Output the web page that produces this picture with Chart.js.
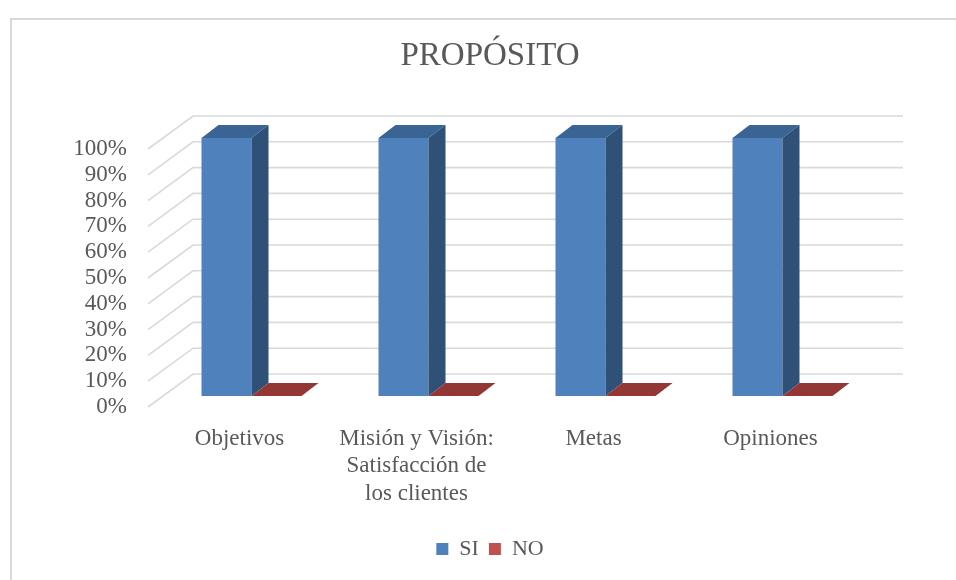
<!DOCTYPE html>
<html>
<head>
<meta charset="utf-8">
<script src="https://cdn.jsdelivr.net/npm/chart.js@4"></script>
<style>
  html, body { margin: 0; padding: 0; background: #fff; overflow: hidden; }
  #box {
    position: absolute; left: 10px; top: 18px;
    border-left: 2px solid #d9d9d9; border-top: 2px solid #d9d9d9;
  }
  #box canvas { display: block; }
</style>
</head>
<body>
<div id="box"><canvas id="chart" width="956" height="560"></canvas></div>
<script>
const categorias = ['Objetivos', ['Misión y Visión:', 'Satisfacción de', 'los clientes'], 'Metas', 'Opiniones'];
const valoresSi = [100, 100, 100, 100];
const valoresNo = [0, 0, 0, 0];
const ticksY = [0, 10, 20, 30, 40, 50, 60, 70, 80, 90, 100];

const FONT = '"Liberation Serif", "DejaVu Serif", serif';
const TEXT = '#595959';
const GRID = '#d9d9d9';

// profundidad de la barra y de la pared del fondo (pseudo 3D estilo Excel)
const BAR_DX = 17, BAR_DY = -13;
const WALL_DX = 30, WALL_DY = -22;
const FRONT_DX = -15, FRONT_DY = 11;

const caras = {
  0: { top: '#3a6494', side: '#2f5077' },
  1: { top: '#943634', side: '#7a2c2a' },
};

function poly(ctx, pts, color) {
  ctx.beginPath();
  ctx.moveTo(pts[0][0], pts[0][1]);
  for (let i = 1; i < pts.length; i++) ctx.lineTo(pts[i][0], pts[i][1]);
  ctx.closePath();
  ctx.fillStyle = color;
  ctx.fill();
}

const pseudo3d = {
  id: 'pseudo3d',
  beforeDatasetsDraw(chart) {
    const { ctx, chartArea: a, scales: { y } } = chart;
    ctx.save();
    ctx.strokeStyle = GRID;
    ctx.lineWidth = 1.6;
    ticksY.forEach(v => {
      const py = y.getPixelForValue(v);
      ctx.beginPath();
      ctx.moveTo(a.left + FRONT_DX, py + FRONT_DY);
      ctx.lineTo(a.left + WALL_DX, py + WALL_DY);
      ctx.lineTo(a.right + WALL_DX + 2, py + WALL_DY);
      ctx.stroke();
    });
    ctx.restore();
  },
  afterDatasetsDraw(chart) {
    const { ctx } = chart;
    ctx.save();
    chart.data.datasets.forEach((ds, i) => {
      const meta = chart.getDatasetMeta(i);
      meta.data.forEach(bar => {
        const { x, y, base, width } = bar.getProps(['x', 'y', 'base', 'width'], true);
        const l = x - width / 2, r = x + width / 2;
        poly(ctx, [[l, y], [l + BAR_DX, y + BAR_DY], [r + BAR_DX, y + BAR_DY], [r, y]], caras[i].top);
        if (base - y > 0.5) {
          poly(ctx, [[r, y], [r + BAR_DX, y + BAR_DY], [r + BAR_DX, base + BAR_DY], [r, base]], caras[i].side);
        }
      });
    });
    ctx.restore();
  },
};

new Chart(document.getElementById('chart'), {
  type: 'bar',
  data: {
    labels: categorias,
    datasets: [
      { label: 'SI', data: valoresSi, backgroundColor: '#4f81bd' },
      { label: 'NO', data: valoresNo, backgroundColor: '#c0504d' },
    ],
  },
  options: {
    responsive: false,
    animation: false,
    categoryPercentage: 100 / 177,
    barPercentage: 1,
    layout: { padding: { left: 0, right: 0, top: 0, bottom: 10 } },
    plugins: {
      title: {
        display: true,
        text: 'PROPÓSITO',
        color: TEXT,
        font: { family: FONT, size: 33, weight: 'normal' },
        padding: { top: 17, bottom: 61.4 },
      },
      legend: {
        position: 'bottom',
        labels: {
          color: TEXT,
          font: { family: FONT, size: 22 },
          boxWidth: 12,
          boxHeight: 12,
          padding: 10,
        },
      },
      tooltip: { enabled: false },
    },
    scales: {
      x: {
        grid: { display: false, drawTicks: false },
        border: { display: false },
        ticks: {
          color: TEXT,
          font: { family: FONT, size: 23, lineHeight: 1.2 },
          padding: 29,
          labelOffset: -12,
          maxRotation: 0,
          autoSkip: false,
        },
        afterFit(scale) { scale.height = 132; },
      },
      y: {
        min: 0,
        max: 100,
        grid: { display: false, drawTicks: false },
        border: { display: false },
        ticks: {
          stepSize: 10,
          autoSkip: false,
          color: TEXT,
          font: { family: FONT, size: 23 },
          padding: 36,
          labelOffset: 11,
          callback: v => v + '%',
        },
        afterFit(scale) { scale.width = 151; },
      },
      // eje vacío a la derecha: reserva el margen sin descentrar título y leyenda
      derecha: {
        position: 'right',
        min: 0,
        max: 100,
        grid: { display: false, drawTicks: false },
        border: { display: false },
        ticks: { display: false },
        afterFit(scale) { scale.width = 97; },
      },
    },
  },
  plugins: [pseudo3d],
});
</script>
</body>
</html>
